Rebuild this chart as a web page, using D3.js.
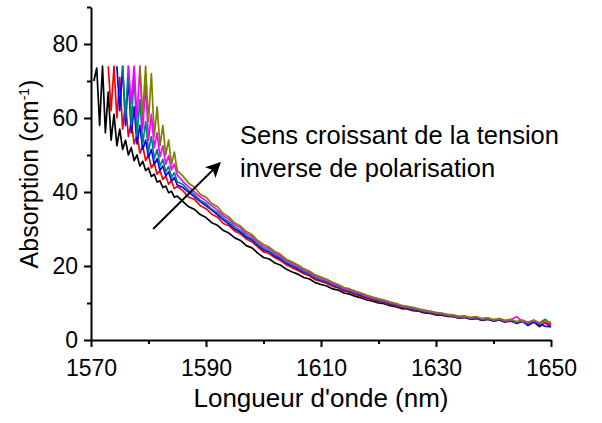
<!DOCTYPE html>
<html>
<head>
<meta charset="utf-8">
<script src="https://cdn.jsdelivr.net/npm/d3@7"></script>
<style>
  body { margin: 0; background: #fff; }
  svg { display: block; }
  text { font-family: "Liberation Sans", Arial, sans-serif; fill: #000; }
</style>
</head>
<body>
<svg id="chart" width="602" height="423"></svg>
<script>
// wavelengths (nm): 0.5 nm steps on the noisy start, 1 nm steps afterwards
const headWavelengths = d3.range(1570.5, 1585.25, 0.5);
const tailWavelengths = d3.range(1586, 1651, 1);

const xMajorTicks = [1570, 1590, 1610, 1630, 1650];
const xMinorTicks = [1580, 1600, 1620, 1640];
const yMajorTicks = [0, 20, 40, 60, 80];
const yMinorTicks = [10, 30, 50, 70, 90];

const seriesColors = ['#000000', '#ff0000', '#0000ff', '#008080', '#ff00ff', '#808000'];

// absorption (cm-1), lowest bias first
const blackHead = [70, 73.5, 58, 74, 56, 67, 54, 61, 52.5, 57,
  51.5, 54, 50, 52, 48.5, 50, 47, 48.3, 45.8, 46.5,
  44.2, 44.8, 42.7, 43, 41.2, 41.6, 39.8, 40.2, 38.6, 38.9];
const blackTail = [37.4, 36.0, 35.3, 33.9, 33.1, 31.7, 31.0, 29.6, 28.9, 27.6,
  26.9, 25.5, 24.9, 23.5, 22.3, 21.9, 20.8, 20.2, 19.1, 18.4,
  17.8, 16.9, 16.5, 15.5, 15.0, 14.6, 13.8, 13.5, 12.7, 12.4,
  11.8, 11.4, 10.8, 10.5, 10.0, 9.8, 9.3, 9.0, 8.5, 8.4,
  7.9, 7.8, 7.3, 7.2, 6.8, 6.7, 6.4, 6.3, 5.9, 6.1,
  5.6, 5.8, 5.3, 5.6, 5.1, 5.4, 4.8, 5.3, 4.5, 5.0,
  4.2, 4.9, 3.6, 4.7, 4.1];

const redHead = [null, null, null, null, null,
  74, 62, 74, 60, 71, 57, 64, 55, 59, 53, 55.5, 50.5, 52.5, 48.5, 50,
  46.5, 47.8, 44.8, 45.8, 43.4, 44.3, 42.1, 43, 40.9, 41.5];
const redTail = [40.3, 38.6, 38.0, 36.3, 35.5, 34.0, 33.2, 31.5, 30.9, 29.4,
  28.7, 27.3, 26.5, 25.2, 23.8, 23.3, 22.2, 21.4, 20.3, 19.5,
  18.8, 17.9, 17.3, 16.3, 15.8, 15.3, 14.5, 14.1, 13.2, 12.9,
  12.3, 11.8, 11.3, 10.8, 10.4, 10.1, 9.6, 9.3, 8.8, 8.6,
  8.2, 7.9, 7.6, 7.3, 7.0, 6.9, 6.5, 6.4, 6.0, 6.2,
  5.7, 5.9, 5.4, 5.7, 5.2, 5.5, 4.9, 5.1, 4.7, 5.2,
  4.5, 4.8, 4.1, 4.6, 3.5];

const blueHead = [null, null, null, null, null, null, null, null,
  74, 62, 74, 58, 71, 56, 63, 53, 58, 51.5, 54, 49.5, 51.5,
  47.5, 49, 45.9, 47, 44.4, 45.4, 43, 43.9, 41.9];
const blueTail = [41.2, 39.9, 38.7, 37.4, 36.3, 35.1, 33.8, 32.5, 31.3, 30.0,
  29.1, 27.8, 27.0, 25.6, 24.3, 23.8, 22.6, 21.9, 20.7, 20.0,
  19.2, 18.3, 17.7, 16.7, 16.1, 15.6, 14.8, 14.3, 13.5, 13.1,
  12.5, 12.1, 11.5, 11.1, 10.6, 10.3, 9.8, 9.5, 9.0, 8.7,
  8.4, 8.0, 7.7, 7.4, 7.1, 7.0, 6.6, 6.5, 6.1, 6.2,
  5.8, 6.0, 5.5, 5.6, 5.2, 5.6, 5.0, 5.3, 4.6, 5.1,
  3.9, 4.9, 4.3, 3.7, 3.6];

const tealHead = [null, null, null, null, null, null, null, null, null, null,
  74, 60, 74, 58, 72, 55, 65, 53, 59, 51,
  55, 49, 51.5, 47, 48.8, 45.4, 46.9, 44, 45.2, 42.8];
const tealTail = [42.0, 40.4, 39.3, 37.8, 36.9, 35.4, 34.4, 32.9, 31.9, 30.4,
  29.6, 28.2, 27.4, 25.9, 24.7, 24.1, 23.0, 22.2, 21.0, 20.3,
  19.5, 18.6, 17.9, 16.9, 16.3, 15.8, 15.0, 14.5, 13.7, 13.3,
  12.7, 12.3, 11.7, 11.2, 10.8, 10.4, 10.0, 9.6, 9.1, 8.8,
  8.5, 8.1, 7.8, 7.5, 7.2, 7.0, 6.7, 6.5, 6.2, 6.3,
  5.9, 6.1, 5.6, 5.8, 5.3, 5.7, 5.1, 5.4, 4.8, 5.3,
  4.4, 5.2, 4.6, 5.6, 4.2];

const magentaHead = [null, null, null, null, null, null, null, null, null, null, null, null,
  74, 64, 74, 60, 74, 57, 69, 54, 61,
  52, 56, 49.5, 52.5, 47.5, 49.8, 46, 47.6, 44.6];
const magentaTail = [42.8, 41.3, 40.0, 38.7, 37.6, 36.3, 35.1, 33.6, 32.6, 31.1,
  30.3, 28.8, 28.0, 26.5, 25.2, 24.7, 23.5, 22.7, 21.4, 20.8,
  19.9, 19.0, 18.3, 17.3, 16.7, 16.1, 15.3, 14.8, 13.9, 13.6,
  12.9, 12.5, 11.9, 11.4, 11.0, 10.6, 10.1, 9.8, 9.2, 9.0,
  8.6, 8.3, 7.9, 7.7, 7.3, 7.2, 6.8, 6.7, 6.3, 6.4,
  6.0, 6.2, 5.7, 5.9, 5.4, 5.8, 5.2, 5.5, 6.3, 5.0,
  4.7, 5.3, 4.4, 5.0, 4.3];

const oliveHead = [null, null, null, null, null, null, null, null,
  null, null, null, null, null, null, null, null,
  74, 61, 74, 59, 72, 55, 63, 52.5, 58, 50, 54, 47.5, 50.8, 45.8];
const oliveTail = [44.3, 42.4, 41.3, 39.4, 38.6, 36.9, 36.0, 34.2, 33.2, 31.6,
  30.8, 29.3, 28.5, 26.9, 25.8, 25.1, 23.9, 23.1, 21.8, 21.1,
  20.3, 19.3, 18.6, 17.6, 17.0, 16.4, 15.6, 15.0, 14.2, 13.8,
  13.2, 12.7, 12.1, 11.6, 11.2, 10.8, 10.3, 9.9, 9.4, 9.1,
  8.8, 8.4, 8.1, 7.8, 7.5, 7.3, 6.9, 6.8, 6.4, 6.5,
  6.1, 6.3, 5.8, 6.0, 5.5, 5.8, 5.3, 5.6, 5.0, 5.4,
  4.8, 5.4, 4.6, 5.1, 4.7];

const annotationLines = ['Sens croissant de la tension', 'inverse de polarisation'];
// arrow in data units: [wavelength, absorption]
const arrowFrom = [1580.8, 30];
const arrowTo = [1592.4, 47.8];

const wavelengths = headWavelengths.concat(tailWavelengths);
const series = [
  blackHead.concat(blackTail),
  redHead.concat(redTail),
  blueHead.concat(blueTail),
  tealHead.concat(tealTail),
  magentaHead.concat(magentaTail),
  oliveHead.concat(oliveTail)
];

const svg = d3.select('#chart');

const x = d3.scaleLinear().domain([1570, 1650]).range([91, 551]);
const y = d3.scaleLinear().domain([0, 90]).range([340, 7]);

// curves
const line = d3.line()
  .defined(d => d[1] !== null)
  .x(d => x(d[0]))
  .y(d => y(d[1]));

svg.append('g')
  .attr('fill', 'none')
  .attr('stroke-width', 1.7)
  .attr('stroke-linejoin', 'round')
  .selectAll('path')
  .data(series)
  .enter().append('path')
  .attr('stroke', (d, i) => seriesColors[i])
  .attr('d', values => line(values.map((v, j) => [wavelengths[j], v])));

// axes
function styleAxis(g) {
  g.select('.domain').attr('stroke-width', 2);
  g.selectAll('.tick line').attr('stroke-width', 2);
  g.selectAll('.tick text').attr('font-size', 23).attr('font-family', '"Liberation Sans", Arial, sans-serif');
}

svg.append('g')
  .attr('transform', 'translate(0,340)')
  .call(d3.axisBottom(x).tickValues(xMinorTicks).tickSize(4).tickSizeOuter(0).tickFormat(''))
  .call(g => g.select('.domain').remove())
  .call(g => g.selectAll('.tick line').attr('stroke-width', 2));

svg.append('g')
  .attr('transform', 'translate(0,340)')
  .call(d3.axisBottom(x).tickValues(xMajorTicks).tickSize(7).tickSizeOuter(0).tickPadding(13).tickFormat(d3.format('d')))
  .call(styleAxis);

svg.append('g')
  .attr('transform', 'translate(91,0)')
  .call(d3.axisLeft(y).tickValues(yMinorTicks).tickSize(4).tickSizeOuter(0).tickFormat(''))
  .call(g => g.select('.domain').remove())
  .call(g => g.selectAll('.tick line').attr('stroke-width', 2));

svg.append('g')
  .attr('transform', 'translate(91,0)')
  .call(d3.axisLeft(y).tickValues(yMajorTicks).tickSize(7).tickSizeOuter(0).tickPadding(6))
  .call(styleAxis);

// axis titles
svg.append('text')
  .attr('x', 321)
  .attr('y', 407)
  .attr('text-anchor', 'middle')
  .attr('font-size', 26)
  .text("Longueur d'onde (nm)");

const yTitle = svg.append('text')
  .attr('transform', 'translate(38,174) rotate(-90)')
  .attr('text-anchor', 'middle')
  .attr('font-size', 25);
yTitle.append('tspan').text('Absorption (cm');
yTitle.append('tspan').attr('font-size', 14).attr('dy', -9).text('-1');
yTitle.append('tspan').attr('dy', 9).text(')');

// annotation
svg.append('g')
  .selectAll('text')
  .data(annotationLines)
  .enter().append('text')
  .attr('x', 240)
  .attr('y', (d, i) => 144 + i * 33)
  .attr('font-size', 25.5)
  .text(d => d);

svg.append('defs').append('marker')
  .attr('id', 'arrowhead')
  .attr('viewBox', '0 0 10 10')
  .attr('refX', 9)
  .attr('refY', 5)
  .attr('markerWidth', 7.5)
  .attr('markerHeight', 7.5)
  .attr('markerUnits', 'strokeWidth')
  .attr('orient', 'auto')
  .append('path')
  .attr('d', 'M0,0 L10,5 L0,10 L2.5,5 Z')
  .attr('fill', '#000');

svg.append('line')
  .attr('x1', x(arrowFrom[0]))
  .attr('y1', y(arrowFrom[1]))
  .attr('x2', x(arrowTo[0]))
  .attr('y2', y(arrowTo[1]))
  .attr('stroke', '#000')
  .attr('stroke-width', 2)
  .attr('marker-end', 'url(#arrowhead)');
</script>
</body>
</html>
